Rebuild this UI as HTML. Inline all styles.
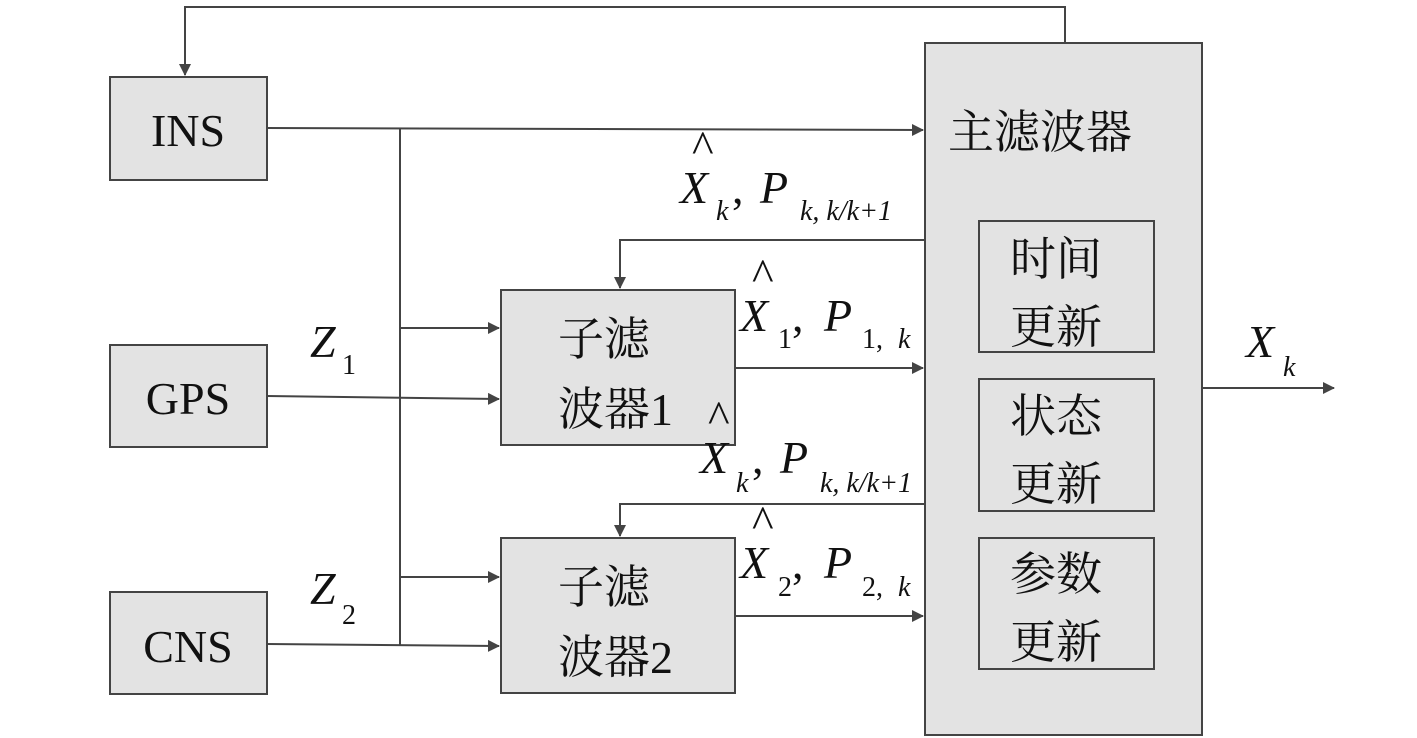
<!DOCTYPE html>
<html><head><meta charset="utf-8"><style>
body{margin:0;background:#fff;}
svg{display:block;}
.cn{font-family:"Liberation Serif","Noto Serif CJK SC","Noto Sans CJK SC",serif;font-size:46px;fill:#111;}
.t{font-family:"Liberation Serif",serif;font-size:46px;fill:#111;}
.i{font-family:"Liberation Serif",serif;font-style:italic;font-size:46px;fill:#111;}
.s{font-family:"Liberation Serif",serif;font-style:italic;font-size:28px;fill:#111;}
.sn{font-family:"Liberation Serif",serif;font-size:28px;fill:#111;}
</style></head><body>
<svg width="1417" height="738" viewBox="0 0 1417 738" xmlns="http://www.w3.org/2000/svg">
<defs><marker id="a" markerWidth="12" markerHeight="12" refX="11" refY="6" orient="auto" markerUnits="userSpaceOnUse"><path d="M0,0 L12,6 L0,12 z" fill="#444"/></marker></defs>
<g fill="#e3e3e3" stroke="#444" stroke-width="2">
<rect x="110" y="77" width="157" height="103"/>
<rect x="110" y="345" width="157" height="102"/>
<rect x="110" y="592" width="157" height="102"/>
<rect x="501" y="290" width="234" height="155"/>
<rect x="501" y="538" width="234" height="155"/>
<rect x="925" y="43" width="277" height="692"/>
<rect x="979" y="221" width="175" height="131"/>
<rect x="979" y="379" width="175" height="132"/>
<rect x="979" y="538" width="175" height="131"/>
</g>
<g stroke="#444" stroke-width="2" fill="none">
<polyline points="1065,43 1065,7 185,7 185,75" marker-end="url(#a)"/>
<line x1="267" y1="128" x2="923" y2="130" marker-end="url(#a)"/>
<line x1="400" y1="128" x2="400" y2="645"/>
<line x1="400" y1="328" x2="499" y2="328" marker-end="url(#a)"/>
<line x1="400" y1="577" x2="499" y2="577" marker-end="url(#a)"/>
<line x1="267" y1="396" x2="499" y2="399" marker-end="url(#a)"/>
<line x1="267" y1="644" x2="499" y2="646" marker-end="url(#a)"/>
<polyline points="925,240 620,240 620,288" marker-end="url(#a)"/>
<polyline points="925,504 620,504 620,536" marker-end="url(#a)"/>
<line x1="735" y1="368" x2="923" y2="368" marker-end="url(#a)"/>
<line x1="735" y1="616" x2="923" y2="616" marker-end="url(#a)"/>
<line x1="1202" y1="388" x2="1334" y2="388" marker-end="url(#a)"/>
</g>
<text class="t" x="188" y="146" text-anchor="middle">INS</text>
<text class="t" x="188" y="414" text-anchor="middle">GPS</text>
<text class="t" x="188" y="662" text-anchor="middle">CNS</text>
<text class="cn" x="948" y="148">主滤波器</text>
<text class="cn" x="1010" y="275">时间</text>
<text class="cn" x="1010" y="343">更新</text>
<text class="cn" x="1010" y="432">状态</text>
<text class="cn" x="1010" y="500">更新</text>
<text class="cn" x="1010" y="590">参数</text>
<text class="cn" x="1010" y="658">更新</text>
<text class="cn" x="558" y="355">子滤</text>
<text class="cn" x="558" y="425">波器1</text>
<text class="cn" x="558" y="603">子滤</text>
<text class="cn" x="558" y="673">波器2</text>
<text class="i" x="310" y="357">Z</text><text class="sn" x="342" y="374">1</text>
<text class="i" x="310" y="604">Z</text><text class="sn" x="342" y="624">2</text>
<text class="i" x="1246" y="357">X</text><text class="s" x="1283" y="376">k</text>
<!-- feedback labels -->
<text class="t" x="692" y="162" font-size="28">^</text>
<text class="i" x="680" y="203">X</text><text class="s" x="716" y="220">k</text><text class="t" x="732" y="203">,</text>
<text class="i" x="760" y="203">P</text><text class="s" x="800" y="220">k, k/k+1</text>
<text class="t" x="752" y="290" font-size="28">^</text>
<text class="i" x="740" y="331">X</text><text class="sn" x="778" y="348">1</text><text class="t" x="792" y="331">,</text>
<text class="i" x="824" y="331">P</text><text class="sn" x="862" y="348">1, </text><text class="s" x="898" y="348">k</text>
<text class="t" x="708" y="432" font-size="28">^</text>
<text class="i" x="700" y="473">X</text><text class="s" x="736" y="492">k</text><text class="t" x="752" y="473">,</text>
<text class="i" x="780" y="473">P</text><text class="s" x="820" y="492">k, k/k+1</text>
<text class="t" x="752" y="537" font-size="28">^</text>
<text class="i" x="740" y="578">X</text><text class="sn" x="778" y="596">2</text><text class="t" x="792" y="578">,</text>
<text class="i" x="824" y="578">P</text><text class="sn" x="862" y="596">2, </text><text class="s" x="898" y="596">k</text>
</svg>
</body></html>
